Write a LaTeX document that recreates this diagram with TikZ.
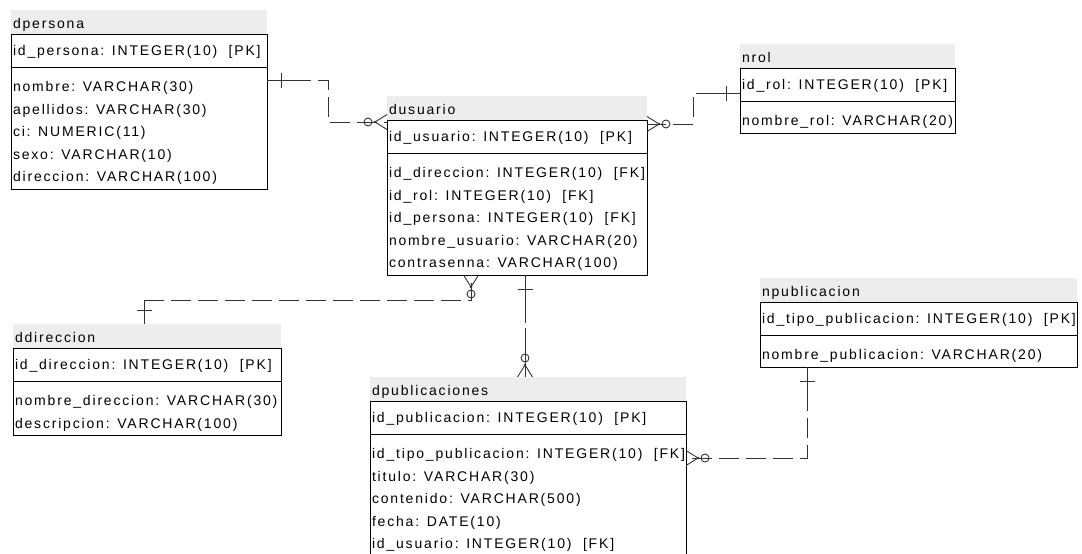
\documentclass[tikz,border=0pt]{standalone}
\usepackage{fontspec}
\setmainfont{Liberation Sans}[LetterSpace=13]
\usetikzlibrary{calc}

\tikzset{
  tabband/.style={fill=black!7, draw=none, inner sep=0pt, outer sep=0pt,
    anchor=north west, minimum height=24pt},
  tabframe/.style={draw=black, line width=1pt, fill=white, inner sep=0pt,
    outer sep=0pt, anchor=north west},
  tabline/.style={draw=black, line width=1pt},
  txt/.style={inner sep=0pt, outer sep=0pt, anchor=base west,
    font=\fontsize{14}{16}\selectfont},
  rel/.style={draw=black!80, line width=0.9pt,
    dash pattern={on 44pt off 7pt on 20pt off 7pt on 20pt off 7pt on 20pt off 7pt
      on 20pt off 7pt on 20pt off 7pt on 20pt off 7pt on 20pt off 7pt
      on 20pt off 7pt on 20pt off 7pt on 20pt off 7pt on 20pt off 7pt
      on 20pt off 7pt on 20pt off 7pt on 20pt off 7pt}},
  idrel/.style={draw=black!80, line width=0.9pt, dash pattern={on 48pt off 5pt on 200pt}},
  relmark/.style={draw=black!80, line width=0.9pt},
}

% table: name, x, y (top of title band), width, attribute rows, title, key row
\newcommand\ertable[7]{%
  \node[tabband, minimum width=#4pt] (#1-band) at (#2,#3) {};
  \node[txt] (#1-title) at ($(#1-band.north west)+(2,18)$) {#6};
  \node[tabframe, minimum width=#4pt, minimum height={65pt+(#5-1)*22.5pt}] (#1)
    at ($(#1-band.north west)+(0,24)$) {};
  \draw[tabline] ($(#1.north west)+(0,33)$) -- ($(#1.north east)+(0,33)$);
  \node[txt] (#1-pk) at ($(#1.north west)+(2,21)$) {#7};
}
% attribute rows below the separator
\newcommand\erattrs[2]{%
  \foreach \attr [count=\i from 0] in {#2}
    \node[txt] (#1-a\i) at ($(#1.north west)+(2,57.5+\i*22.5)$) {\attr};
}
% "many" end: crow's foot with circle; #2,#3 point away from the table
\newcommand\manyend[3]{%
  \draw[relmark] ($(#1)+(12*#2,12*#3)$) -- ($(#1)+(-7.5*#3,7.5*#2)$)
    ($(#1)+(12*#2,12*#3)$) -- ($(#1)+(7.5*#3,-7.5*#2)$)
    ($(#1)+(19*#2,19*#3)$) circle[radius=4pt];
  \fill[black!80] ($(#1)+(12*#2,12*#3)$) circle[radius=1.3pt];
}
% "one" end: bar across the line
\newcommand\oneend[3]{%
  \draw[relmark] ($(#1)+(14*#2,14*#3)+(-7.5*#3,7.5*#2)$) --
    ($(#1)+(14*#2,14*#3)+(7.5*#3,-7.5*#2)$);
}

\begin{document}
\begin{tikzpicture}[x=1pt,y=-1pt]
\useasboundingbox (0,0) rectangle (1082,554);

\ertable{dpersona}{11}{10}{256}{5}{dpersona}{id\_persona: INTEGER(10)\ \ [PK]}
\erattrs{dpersona}{nombre: VARCHAR(30), apellidos: VARCHAR(30), ci: NUMERIC(11),
  sexo: VARCHAR(10), direccion: VARCHAR(100)}

\ertable{dusuario}{387}{96}{260}{5}{dusuario}{id\_usuario: INTEGER(10)\ \ [PK]}
\erattrs{dusuario}{id\_direccion: INTEGER(10)\ \ [FK], id\_rol: INTEGER(10)\ \ [FK],
  id\_persona: INTEGER(10)\ \ [FK], nombre\_usuario: VARCHAR(20), contrasenna: VARCHAR(100)}

\ertable{nrol}{740}{44}{215}{1}{nrol}{id\_rol: INTEGER(10)\ \ [PK]}
\erattrs{nrol}{nombre\_rol: VARCHAR(20)}

\ertable{ddireccion}{13}{324}{268}{2}{ddireccion}{id\_direccion: INTEGER(10)\ \ [PK]}
\erattrs{ddireccion}{nombre\_direccion: VARCHAR(30), descripcion: VARCHAR(100)}

\ertable{dpublicaciones}{370}{377}{316}{5}{dpublicaciones}{id\_publicacion: INTEGER(10)\ \ [PK]}
\erattrs{dpublicaciones}{id\_tipo\_publicacion: INTEGER(10)\ \ [FK], titulo: VARCHAR(30),
  contenido: VARCHAR(500), fecha: DATE(10), id\_usuario: INTEGER(10)\ \ [FK]}

\ertable{npublicacion}{760}{278}{317}{1}{npublicacion}{id\_tipo\_publicacion: INTEGER(10)\ \ [PK]}
\erattrs{npublicacion}{nombre\_publicacion: VARCHAR(20)}

% dpersona -- dusuario
\coordinate (r1a) at ($(dpersona.north east)+(0,46)$);
\coordinate (r1b) at ($(dusuario.north west)+(0,2)$);
\draw[rel] (r1a) -- ++(61,0) |- (r1b);
\oneend{r1a}{1}{0}
\manyend{r1b}{-1}{0}

% nrol -- dusuario
\coordinate (r2a) at ($(nrol.north west)+(0,25)$);
\coordinate (r2b) at ($(dusuario.north east)+(0,4)$);
\draw[rel] (r2a) -- ++(-47,0) |- (r2b);
\oneend{r2a}{-1}{0}
\manyend{r2b}{1}{0}

% ddireccion -- dusuario
\coordinate (r3a) at ($(ddireccion-band.north west)+(131,0)$);
\coordinate (r3b) at ($(dusuario.south west)+(84,0)$);
\draw[rel] (r3a) -- ++(0,-24) -| (r3b);
\oneend{r3a}{0}{-1}
\manyend{r3b}{0}{1}

% dusuario -- dpublicaciones
\coordinate (r4a) at ($(dusuario.south west)+(138,0)$);
\coordinate (r4b) at ($(dpublicaciones-band.north west)+(155,0)$);
\draw[idrel] (r4a) -- (r4b);
\oneend{r4a}{0}{1}
\manyend{r4b}{0}{-1}

% npublicacion -- dpublicaciones
\coordinate (r5a) at ($(npublicacion.south west)+(47,0)$);
\coordinate (r5b) at ($(dpublicaciones.north east)+(0,57)$);
\draw[rel] (r5a) |- (r5b);
\oneend{r5a}{0}{1}
\manyend{r5b}{1}{0}
\end{tikzpicture}
\end{document}
